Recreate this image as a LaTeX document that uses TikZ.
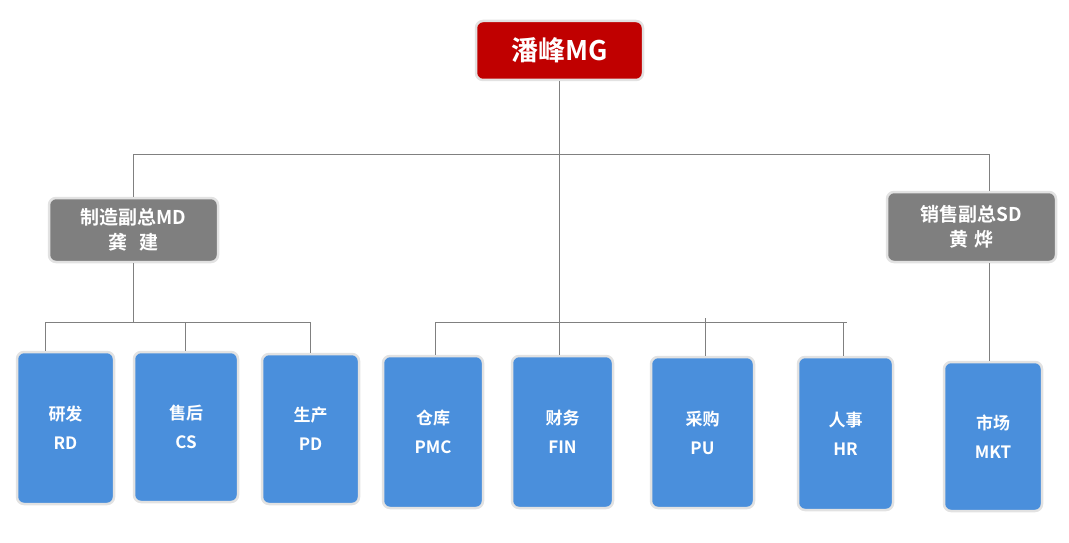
\documentclass[tikz,border=0pt]{standalone}
\usepackage{fontspec}
\newfontfamily\cjk{Noto Sans CJK SC}[BoldFont={Noto Sans CJK SC Bold}]
\definecolor{topred}{HTML}{C00000}
\definecolor{vgray}{HTML}{7F7F7F}
\definecolor{dblue}{HTML}{4A8FDC}
\definecolor{edge}{HTML}{E2E2E2}
\definecolor{ln}{HTML}{808080}
\begin{document}
\begin{tikzpicture}[x=1pt,y=-1pt,
  box/.style={draw=edge,line width=2.5pt,rounded corners=7pt,text=white,align=center,font=\cjk\bfseries,inner sep=0pt},
  topbox/.style={box,fill=topred,font=\cjk\bfseries\fontsize{27}{30}\selectfont},
  vpbox/.style={box,fill=vgray,font=\cjk\bfseries\fontsize{19}{25}\selectfont},
  dept/.style={box,fill=dblue,font=\cjk\bfseries\fontsize{17}{29}\selectfont},
  conn/.style={draw=ln,line width=0.8pt}]
\useasboundingbox (0,0) rectangle (1069,543);
\node[topbox,minimum width=167pt,minimum height=59pt] (mg) at (559.5,50.5) {潘峰MG};
\node[vpbox,minimum width=169pt,minimum height=64pt] (md) at (133.5,230) {制造副总MD\\龚\hspace{0.6em}建};
\node[vpbox,minimum width=169pt,minimum height=70pt] (sd) at (971.5,227) {销售副总SD\\黄\hspace{0.3em}烨};
\node[dept,minimum width=97pt,minimum height=152pt] (rd) at (65.5,428) {研发\\RD};
\node[dept,minimum width=104pt,minimum height=150pt] (cs) at (186,427) {售后\\CS};
\node[dept,minimum width=97pt,minimum height=150pt] (pd) at (310.5,429) {生产\\PD};
\node[dept,minimum width=100pt,minimum height=152pt] (pmc) at (433,432) {仓库\\PMC};
\node[dept,minimum width=101pt,minimum height=152pt] (fin) at (562.5,432) {财务\\FIN};
\node[dept,minimum width=103pt,minimum height=151pt] (pu) at (702.5,432.5) {采购\\PU};
\node[dept,minimum width=95pt,minimum height=153pt] (hr) at (845.5,433.5) {人事\\HR};
\node[dept,minimum width=98pt,minimum height=149pt] (mkt) at (993,436.5) {市场\\MKT};
\coordinate (tl) at (133,154);
\coordinate (tr) at (989,154);
\coordinate (lb) at (133,322);
\coordinate (mb) at (560,322);
\coordinate (l1) at (45,322);
\coordinate (l2) at (185,322);
\coordinate (l3) at (310,322);
\coordinate (m1) at (435,322);
\coordinate (m3) at (705,318);
\coordinate (m4) at (843,322);
\coordinate (me) at (847,322);
\begin{scope}[on background layer/.style={}]
\path[conn] (mg.south) -- (mg.south |- fin.north);
\path[conn] (tl) -- (tr);
\path[conn] (tl) -- (md.north -| tl);
\path[conn] (tr) -- (sd.north -| tr);
\path[conn] (md.south -| lb) -- (lb);
\path[conn] (l1) -- (l3);
\path[conn] (l1) -- (l1 |- rd.north);
\path[conn] (l2) -- (l2 |- cs.north);
\path[conn] (l3) -- (l3 |- pd.north);
\path[conn] (m1) -- (me);
\path[conn] (m1) -- (m1 |- pmc.north);
\path[conn] (m3) -- (m3 |- pu.north);
\path[conn] (m4) -- (m4 |- hr.north);
\path[conn] (sd.south -| tr) -- (tr |- mkt.north);
\end{scope}
\end{tikzpicture}
\end{document}
